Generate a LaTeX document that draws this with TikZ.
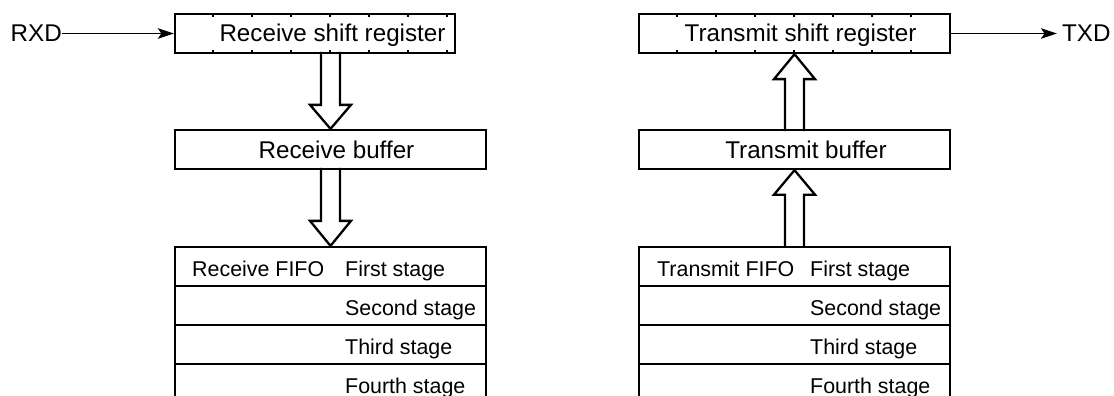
\documentclass[tikz,border=0pt]{standalone}
\usepackage{fontspec}
\setmainfont{Liberation Sans}
\usetikzlibrary{arrows.meta}
\newcommand\regfont{\fontsize{24.2}{28}\selectfont}
\newcommand\fifofont{\fontsize{21.4}{25}\selectfont}
\tikzset{
  regbox/.style={draw, line width=2.3pt, minimum height=39pt, inner sep=0pt},
  fifobox/.style={regbox, minimum width=311pt},
  regtext/.style={font=\regfont, inner sep=0pt, anchor=base},
  fifotext/.style={font=\fifofont, inner sep=0pt, anchor=base west},
  sig/.style={line width=1.7pt, -{Stealth[length=16pt, width=10.5pt, inset=3.5pt]}},
  hollow/.style={line width=2.3pt, line join=miter},
  tick/.style={line width=2pt}
}
\begin{document}
\begin{tikzpicture}[x=1pt, y=-1pt]
    \useasboundingbox (0,0) rectangle (1114,396);

    % receive side
    \node[regbox, minimum width=280pt] (rsr) at (315,33.5) {};
    \node[regtext] (rsrtext) at (332.5,41.5) {Receive shift register};
    \node[regbox, minimum width=311pt] (rbuf) at (330.5,149.5) {};
    \node[regtext] (rbuftext) at (336.5,158) {Receive buffer};
    \foreach \i/\stage in {1/First stage, 2/Second stage, 3/Third stage, 4/Fourth stage} {
        \node[fifobox] (rf\i) at (330.5,{266.5+39*(\i-1)}) {};
        \node[fifotext] (rft\i) at (345,{276+39*(\i-1)}) {\stage};
    }
    \node[fifotext] (rfifo) at (192,276) {Receive FIFO};

    \node[font=\regfont, inner sep=0pt, anchor=east] (rxd) at (62,33.5) {RXD};
    \draw[sig] (rxd.east) -- (rsr.west);

    \foreach \k in {1,...,7} {
        \draw[tick] ([xshift=39*\k pt]rsr.north west) -- ++(0,4.5);
        \draw[tick] ([xshift=39*\k pt]rsr.south west) -- ++(0,-4.5);
    }

    \draw[hollow] (rbuf.north) ++(-9.5,-77) -- ++(0,53) -- ++(-11,0) -- (rbuf.north)
        -- ++(20.5,-24) -- ++(-11,0) -- ++(0,-53);
    \draw[hollow] (rf1.north) ++(-9.5,-78) -- ++(0,53) -- ++(-11,0) -- (rf1.north)
        -- ++(20.5,-25) -- ++(-11,0) -- ++(0,-53);

    % transmit side
    \node[regbox, minimum width=311pt] (tsr) at (794.5,33.5) {};
    \node[regtext] (tsrtext) at (800.5,41.5) {Transmit shift register};
    \node[regbox, minimum width=311pt] (tbuf) at (794.5,149.5) {};
    \node[regtext] (tbuftext) at (806,158) {Transmit buffer};
    \foreach \i/\stage in {1/First stage, 2/Second stage, 3/Third stage, 4/Fourth stage} {
        \node[fifobox] (tf\i) at (794.5,{266.5+39*(\i-1)}) {};
        \node[fifotext] (tft\i) at (810,{276+39*(\i-1)}) {\stage};
    }
    \node[fifotext] (tfifo) at (657,276) {Transmit FIFO};

    \node[font=\regfont, inner sep=0pt, anchor=west] (txd) at (1062,33.5) {TXD};
    \draw[sig, shorten >=5pt] (tsr.east) -- (txd.west);

    \foreach \k in {1,...,7} {
        \draw[tick] ([xshift=39*\k pt]tsr.north west) -- ++(0,4.5);
        \draw[tick] ([xshift=39*\k pt]tsr.south west) -- ++(0,-4.5);
    }

    \draw[hollow] (tsr.south) ++(-9.5,77) -- ++(0,-52) -- ++(-11,0) -- (tsr.south)
        -- ++(20.5,25) -- ++(-11,0) -- ++(0,52);
    \draw[hollow] (tbuf.south) ++(-9.5,77.5) -- ++(0,-53) -- ++(-11,0) -- (tbuf.south)
        -- ++(20.5,24.5) -- ++(-11,0) -- ++(0,53);
\end{tikzpicture}
\end{document}
